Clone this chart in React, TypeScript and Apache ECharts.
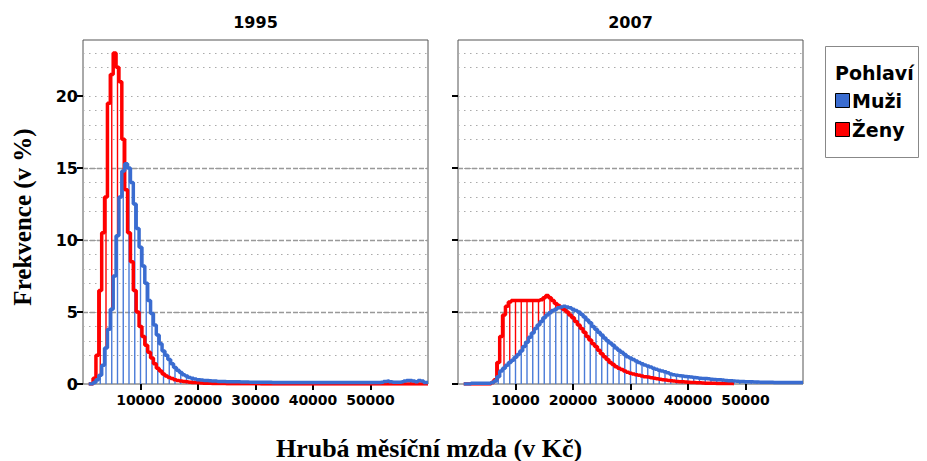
import React, { useEffect, useRef } from "react";
import * as echarts from "echarts";

// Wage points (Kč): 1000 .. 60000, every 500
const wageStart = 1000;
const wageStep = 500;
const wages: number[] = Array.from({ length: 119 }, (_, i) => wageStart + i * wageStep);

const panelTitles = ["1995", "2007"];
const seriesNames = ["Muži", "Ženy"];
const xTickValues = [10000, 20000, 30000, 40000, 50000];
const yTickValues = [0, 5, 10, 15, 20];

// Frekvence (v %) – 1995
const men1995 = [
  0, 0, 0.1, 0.3, 0.6, 1.3, 2.5, 3.8, 5.2, 7.5,
  10.3, 13, 14.8, 15.3, 15, 14, 12.5, 10.8, 9.5, 8.2,
  7, 5.8, 4.9, 4.1, 3.4, 2.8, 2.3, 2, 1.7, 1.4,
  1.15, 0.95, 0.8, 0.65, 0.55, 0.45, 0.4, 0.35, 0.3, 0.28,
  0.25, 0.24, 0.22, 0.2, 0.2, 0.18, 0.18, 0.17, 0.16, 0.16,
  0.15, 0.15, 0.15, 0.14, 0.14, 0.14, 0.13, 0.13, 0.13, 0.12,
  0.12, 0.12, 0.12, 0.12, 0.11, 0.11, 0.11, 0.11, 0.11, 0.1,
  0.1, 0.1, 0.1, 0.1, 0.1, 0.1, 0.1, 0.1, 0.1, 0.1,
  0.1, 0.1, 0.1, 0.1, 0.1, 0.1, 0.1, 0.1, 0.1, 0.1,
  0.1, 0.1, 0.1, 0.1, 0.1, 0.1, 0.1, 0.1, 0.1, 0.1,
  0.1, 0.1, 0.12, 0.18, 0.2, 0.15, 0.12, 0.12, 0.12, 0.15,
  0.2, 0.25, 0.25, 0.2, 0.15, 0.25, 0.2, 0.1, 0.1,
];
const women1995 = [
  0, 0, 0.4, 2, 6.5, 10.5, 13, 19.5, 21.5, 23,
  22, 21, 17, 13.5, 10.5, 8.5, 6.5, 5, 4, 3.3,
  2.7, 2.2, 1.8, 1.4, 1.1, 0.9, 0.7, 0.55, 0.45, 0.38,
  0.3, 0.25, 0.2, 0.17, 0.15, 0.12, 0.1, 0.1, 0.08, 0.07,
  0.06, 0.05, 0.05, 0.04, 0.04, 0.03, 0.03, 0.03, 0.02, 0.02,
  0.02, 0.02, 0.02, 0.02, 0.01, 0.01, 0.01, 0.01, 0.01, 0.01,
  0, 0, 0, 0, 0, 0, 0, 0, 0, 0,
  0, 0, 0, 0, 0, 0, 0, 0, 0, 0,
  0, 0, 0, 0, 0, 0, 0, 0, 0, 0,
  0, 0, 0, 0, 0, 0, 0, 0, 0, 0,
  0, 0, 0, 0, 0, 0, 0, 0, 0, 0,
  0, 0, 0, 0, 0, 0, 0, 0, 0,
];

// Frekvence (v %) – 2007
const men2007 = [
  0, 0, 0, 0.05, 0.05, 0.05, 0.05, 0.05, 0.05, 0.05,
  0.1, 0.2, 0.5, 0.9, 1.1, 1.3, 1.5, 1.65, 1.85, 2.05,
  2.3, 2.6, 2.9, 3.25, 3.55, 3.85, 4.1, 4.35, 4.6, 4.8,
  4.95, 5.1, 5.2, 5.3, 5.35, 5.4, 5.35, 5.3, 5.2, 5.1,
  5.0, 4.85, 4.65, 4.45, 4.25, 4.0, 3.8, 3.6, 3.4, 3.2,
  3.0, 2.85, 2.7, 2.5, 2.35, 2.2, 2.05, 1.9, 1.8, 1.7,
  1.6, 1.5, 1.4, 1.32, 1.25, 1.18, 1.1, 1.02, 0.95, 0.9,
  0.85, 0.78, 0.7, 0.65, 0.6, 0.58, 0.55, 0.52, 0.5, 0.48,
  0.45, 0.43, 0.4, 0.39, 0.38, 0.36, 0.33, 0.32, 0.3, 0.29,
  0.27, 0.25, 0.23, 0.22, 0.2, 0.19, 0.18, 0.17, 0.16, 0.15,
  0.15, 0.14, 0.14, 0.13, 0.13, 0.12, 0.12, 0.12, 0.11, 0.11,
  0.11, 0.1, 0.1, 0.1, 0.1, 0.1, 0.1, 0.1, 0.1,
];
const women2007 = [
  0, 0, 0, 0, 0, 0, 0, 0, 0, 0,
  0.1, 0.3, 1.5, 3.3, 4.8, 5.4, 5.7, 5.8, 5.8, 5.8,
  5.8, 5.8, 5.8, 5.8, 5.8, 5.8, 5.8, 5.85, 6.0, 6.15,
  6.0, 5.8, 5.6, 5.45, 5.3, 5.15, 5.0, 4.8, 4.6, 4.35,
  4.1, 3.85, 3.6, 3.3, 3.05, 2.8, 2.6, 2.35, 2.1, 1.9,
  1.7, 1.5, 1.35, 1.2, 1.1, 1.0, 0.9, 0.82, 0.75, 0.7,
  0.65, 0.6, 0.55, 0.5, 0.48, 0.44, 0.4, 0.37, 0.33, 0.3,
  0.28, 0.25, 0.22, 0.2, 0.18, 0.16, 0.15, 0.14, 0.12, 0.11,
  0.1, 0.09, 0.08, 0.07, 0.06, 0.05, 0.05, 0.05, 0.04, 0.04,
  0.04, 0.03, 0.03, 0.03, 0.02,
];

const panels = [
  { men: men1995, women: women1995 },
  { men: men2007, women: women2007 },
];

const BLUE = "#3A6CD0";
const BLUE_BAR = "#4A7BD8";
const RED = "#FF0000";

const pairs = (vals: number[]) => vals.map((v, i) => [wages[i], v]);
// rows for the vertical lines, one every 1000 Kč: [wage, men, women]
const stemRows = (men: number[], women: number[]) =>
  wages
    .map((w, i) => [w, men[i] ?? 0, women[i] ?? 0])
    .filter((r) => r[0] % 1000 === 0);

export default function App() {
  const ref = useRef<HTMLDivElement>(null);

  useEffect(() => {
    if (!ref.current) return;
    const chart = echarts.init(ref.current, null, { renderer: "svg" });

    const gridLeft = [83, 458];
    const grids = gridLeft.map((l) => ({
      left: l,
      top: 40,
      width: 345,
      height: 344,
      show: true,
      backgroundColor: "#fff",
      borderColor: "#555",
      borderWidth: 1,
    }));

    const xAxes = gridLeft.map((_, gi) => ({
      type: "value",
      gridIndex: gi,
      min: 0,
      max: 60000,
      interval: 10000,
      axisLine: { show: false },
      splitLine: { show: false },
      axisTick: {
        show: true,
        customValues: xTickValues,
        length: 6,
        lineStyle: { color: "#000", width: 2 },
      },
      axisLabel: {
        customValues: xTickValues,
        formatter: (v: number) => String(v),
        color: "#000",
        fontFamily: "DejaVu Sans",
        fontWeight: "bold",
        fontSize: 14,
        margin: 9,
      },
    }));

    const yAxes: any[] = [];
    gridLeft.forEach((_, gi) => {
      yAxes.push({
        type: "value",
        gridIndex: gi,
        min: 0,
        max: 23.9,
        interval: 5,
        axisLine: { show: false },
        axisTick: {
          show: true,
          customValues: yTickValues,
          length: 6,
          lineStyle: { color: "#000", width: 2 },
        },
        axisLabel: {
          show: gi === 0,
          customValues: yTickValues,
          color: "#000",
          fontFamily: "DejaVu Sans",
          fontWeight: "bold",
          fontSize: 16,
          margin: 5,
        },
        splitLine: {
          show: true,
          showMinLine: false,
          showMaxLine: false,
          lineStyle: { color: "#999", width: 1.3, type: [5, 2] },
        },
        z: 1,
      });
      yAxes.push({
        type: "value",
        gridIndex: gi,
        min: 0,
        max: 23.9,
        interval: 1,
        axisLine: { show: false },
        axisTick: { show: false },
        axisLabel: { show: false },
        splitLine: {
          show: true,
          showMinLine: false,
          showMaxLine: false,
          lineStyle: {
            color: ["rgba(0,0,0,0)", "#aaa", "#aaa", "#aaa", "#aaa"],
            width: 1.2,
            type: [1.5, 4.5],
          },
        },
        z: 0,
      });
    });

    const series: any[] = [];
    panels.forEach((p, gi) => {
      const yi = gi * 2;
      series.push({
        type: "custom",
        xAxisIndex: gi,
        yAxisIndex: yi,
        data: stemRows(p.men, p.women),
        encode: { x: 0, y: [1, 2] },
        clip: true,
        z: 2,
        renderItem: (_params: any, api: any) => {
          const x = api.value(0);
          const m = api.value(1);
          const w = api.value(2);
          const p0 = api.coord([x, 0]);
          const pm = api.coord([x, m]);
          const pw = api.coord([x, w]);
          const children: any[] = [];
          if (w > m) {
            children.push({
              type: "line",
              shape: { x1: p0[0], y1: pm[1], x2: p0[0], y2: pw[1] },
              style: { stroke: RED, lineWidth: 1.4 },
            });
          }
          if (m > 0) {
            children.push({
              type: "line",
              shape: { x1: p0[0], y1: p0[1], x2: p0[0], y2: pm[1] },
              style: { stroke: BLUE_BAR, lineWidth: 1.4 },
            });
          }
          return { type: "group", children };
        },
      });
      series.push({
        name: seriesNames[1],
        type: "line",
        xAxisIndex: gi,
        yAxisIndex: yi,
        data: pairs(p.women),
        step: "middle",
        showSymbol: false,
        symbol: "none",
        lineStyle: { color: RED, width: 3.5 },
        itemStyle: { color: RED },
        z: 3,
      });
      series.push({
        name: seriesNames[0],
        type: "line",
        xAxisIndex: gi,
        yAxisIndex: yi,
        data: pairs(p.men),
        step: "middle",
        showSymbol: false,
        symbol: "none",
        lineStyle: { color: BLUE, width: 3.5 },
        itemStyle: { color: BLUE },
        z: 4,
      });
    });

    const titleFont = "bold 16px 'DejaVu Sans'";
    const legendFont = "bold 19px 'DejaVu Sans'";
    const graphic: any[] = [
      ...panelTitles.map((t, i) => ({
        type: "text",
        x: gridLeft[i] + 172.5,
        y: 22,
        style: { text: t, font: titleFont, fill: "#000", align: "center", verticalAlign: "middle" },
      })),
      {
        type: "text",
        x: 22,
        y: 217,
        rotation: Math.PI / 2,
        style: {
          text: "Frekvence (v %)",
          font: "bold 25px 'Liberation Serif'",
          fill: "#000",
          align: "center",
          verticalAlign: "middle",
        },
      },
      {
        type: "text",
        x: 429,
        y: 448,
        style: {
          text: "Hrubá měsíční mzda (v Kč)",
          font: "bold 26px 'Liberation Serif'",
          fill: "#000",
          align: "center",
          verticalAlign: "middle",
        },
      },
      {
        type: "rect",
        shape: { x: 825.5, y: 46.5, width: 93, height: 111 },
        style: { fill: "#fff", stroke: "#888", lineWidth: 1 },
      },
      {
        type: "text",
        x: 835,
        y: 73,
        style: { text: "Pohlaví", font: legendFont, fill: "#000", verticalAlign: "middle" },
      },
      {
        type: "rect",
        shape: { x: 835.5, y: 93.5, width: 14, height: 14 },
        style: { fill: BLUE, stroke: "#000", lineWidth: 1 },
      },
      {
        type: "text",
        x: 852,
        y: 101,
        style: { text: seriesNames[0], font: legendFont, fill: "#000", verticalAlign: "middle" },
      },
      {
        type: "rect",
        shape: { x: 835.5, y: 122.5, width: 14, height: 14 },
        style: { fill: RED, stroke: "#000", lineWidth: 1 },
      },
      {
        type: "text",
        x: 852,
        y: 130,
        style: { text: seriesNames[1], font: legendFont, fill: "#000", verticalAlign: "middle" },
      },
    ];

    chart.setOption({
      animation: false,
      backgroundColor: "#fff",
      grid: grids,
      xAxis: xAxes,
      yAxis: yAxes,
      series,
      graphic,
    });

    return () => chart.dispose();
  }, []);

  return <div ref={ref} style={{ width: 927, height: 461, position: "absolute", left: 0, top: 0 }} />;
}
